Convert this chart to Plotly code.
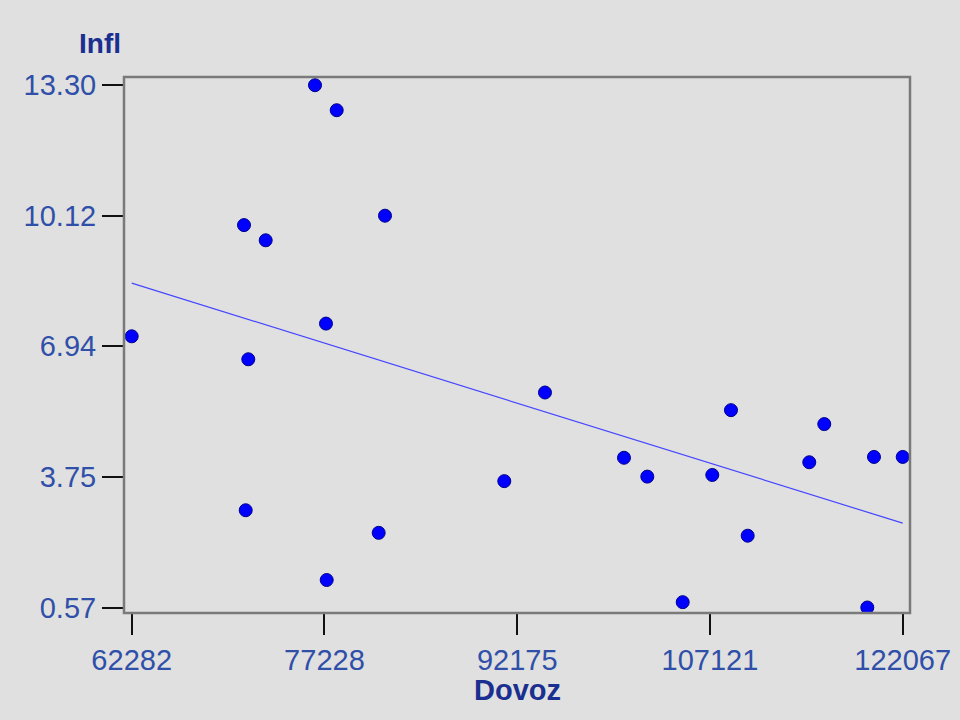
import numpy as np
import plotly.graph_objects as go

# Import volume (Dovoz) vs. inflation (Infl)
dovoz = [62282, 70990, 72672, 76495, 78178, 81923, 77348, 71323, 71122, 81434,
         77402, 94329, 91174, 100455, 102262, 107302, 108752, 110047, 105007,
         114823, 115986, 119840, 122067, 119321]
infl = [7.18, 9.89, 9.52, 13.30, 12.69, 10.12, 7.49, 6.62, 2.94, 2.39,
        1.24, 5.81, 3.65, 4.22, 3.76, 3.80, 5.38, 2.32, 0.70,
        4.11, 5.04, 4.24, 4.24, 0.57]

x_ticks = [62282, 77228, 92175, 107121, 122067]
y_ticks = [0.57, 3.75, 6.94, 10.12, 13.30]

# least-squares trend line
slope, intercept = np.polyfit(dovoz, infl, 1)
fit_x = np.array([min(dovoz), max(dovoz)])
fit_y = slope * fit_x + intercept

BG = "#e0e0e0"
LABEL = "#2f4fa8"
TITLE = "#1a2f8f"
FONT = "Liberation Sans, Arial, sans-serif"

fig = go.Figure()
fig.add_trace(go.Scatter(
    x=fit_x, y=fit_y, mode="lines",
    line=dict(color="rgb(70,70,255)", width=1.2),
    hoverinfo="skip", showlegend=False,
))
fig.add_trace(go.Scatter(
    x=dovoz, y=infl, mode="markers",
    marker=dict(size=13, color="#0000ff", line=dict(color="#00008c", width=1)),
    showlegend=False,
))

axis_common = dict(
    showgrid=False, zeroline=False, showline=False, automargin=False,
    ticks="outside", ticklen=21, tickwidth=2, tickcolor="#111111",
    tickfont=dict(family=FONT, size=29, color=LABEL),
)
fig.update_xaxes(
    range=[61685, 122633], tickvals=x_ticks,
    ticktext=[str(v) for v in x_ticks], **axis_common,
)
fig.update_yaxes(
    range=[0.436, 13.50], tickvals=y_ticks,
    ticktext=[f"{v:.2f}" for v in y_ticks], **axis_common,
)

# plot frame
fig.add_shape(type="rect", xref="paper", yref="paper", x0=0, y0=0, x1=1, y1=1,
              line=dict(color="#7a7a7a", width=2.5), layer="above")

fig.add_annotation(text="<b>Infl</b>", xref="paper", yref="paper",
                   x=-0.031, y=1.0, yshift=34, xanchor="center", yanchor="middle",
                   showarrow=False, font=dict(family=FONT, size=28, color=TITLE))
fig.add_annotation(text="<b>Dovoz</b>", xref="paper", yref="paper",
                   x=0.5, y=0, yshift=-77, xanchor="center", yanchor="middle",
                   showarrow=False, font=dict(family=FONT, size=29, color=TITLE))

fig.update_layout(
    width=960, height=720,
    margin=dict(l=124, r=50, t=77, b=107),
    paper_bgcolor=BG, plot_bgcolor=BG,
)

fig.write_html("out.html")
